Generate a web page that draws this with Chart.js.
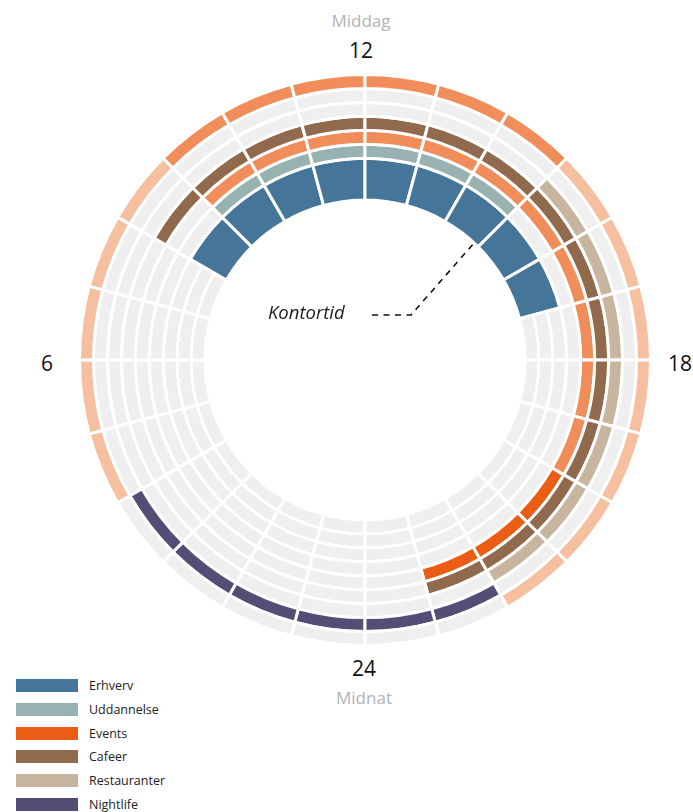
<!DOCTYPE html>
<html>
<head>
<meta charset="utf-8">
<script src="https://cdn.jsdelivr.net/npm/chart.js@4.4.0/dist/chart.umd.min.js"></script>
<style>
  body { margin: 0; background: #fff; font-family: "Open Sans", sans-serif; }
  #wrap { position: relative; width: 693px; height: 812px; overflow: hidden; }
  #chartBox { position: absolute; left: 78px; top: 73px; width: 574px; height: 574px; }
  .lbl { position: absolute; transform: translate(-50%, -50%); line-height: 1; white-space: nowrap; }
  .hour { font-size: 21px; color: #111; }
  .sub { font-size: 17px; color: #b3b3b3; }
  #kontor { position: absolute; left: 268px; top: 312px; transform: translate(0, -50%); line-height: 1;
            font-size: 18.5px; font-style: italic; color: #1a1a1a; }
  #legend { position: absolute; left: 16px; top: 673.6px; }
  .item { display: flex; align-items: center; height: 23.8px; font-size: 12.5px; color: #222; }
  .box { width: 62px; height: 13px; margin-right: 11px; }
</style>
</head>
<body>
<div id="wrap">
  <div id="chartBox"><canvas id="ringChart"></canvas></div>
  <div class="lbl sub" style="left:361px; top:20px;">Middag</div>
  <div class="lbl hour" style="left:361px; top:50px;">12</div>
  <div class="lbl hour" style="left:47px; top:363px;">6</div>
  <div class="lbl hour" style="left:680px; top:363px;">18</div>
  <div class="lbl hour" style="left:364px; top:668px;">24</div>
  <div class="lbl sub" style="left:364px; top:697px;">Midnat</div>
  <div id="kontor">Kontortid</div>
  <div id="legend"></div>
</div>

<script>
// timer, 00-01 ... 23-24 (midnat i bunden, med uret)
const hours = ["00","01","02","03","04","05","06","07","08","09","10","11",
               "12","13","14","15","16","17","18","19","20","21","22","23"];

// 0 = ingen aktivitet, 1 = lav, 2 = hoej
const erhverv      = [0,0,0,0,0,0,0,0,2,2,2,2,2,2,2,2,2,0,0,0,0,0,0,0];
const uddannelse   = [0,0,0,0,0,0,0,0,0,2,2,2,2,2,2,0,0,0,0,0,0,0,0,0];
const events       = [0,0,0,0,0,0,0,0,0,1,1,1,1,1,1,1,1,1,1,1,2,2,2,0];
const cafeer       = [0,0,0,0,0,0,0,0,2,2,2,2,2,2,2,2,2,2,2,2,2,2,2,0];
const restauranter = [0,0,0,0,0,0,0,0,0,0,0,0,0,0,0,2,2,2,2,2,2,2,0,0];
const nightlife    = [2,2,2,2,0,0,0,0,0,0,0,0,0,0,0,0,0,0,0,0,0,0,2,2];
const samlet       = [0,0,0,0,1,1,1,1,1,2,2,2,2,2,2,1,1,1,1,1,1,1,0,0];

const legendNames = ["Erhverv", "Uddannelse", "Events", "Cafeer", "Restauranter", "Nightlife"];

const GRAY = "#efefef";
const colors = {
  erhverv:      [GRAY, "#457599", "#457599"],
  uddannelse:   [GRAY, "#98b2b2", "#98b2b2"],
  events:       [GRAY, "#f18d5b", "#eb5d14"],
  cafeer:       [GRAY, "#916a4d", "#916a4d"],
  restauranter: [GRAY, "#c7b5a0", "#c7b5a0"],
  nightlife:    [GRAY, "#554d75", "#554d75"],
  samlet:       [GRAY, "#f6bfa0", "#f18d5b"]
};
const legendColors = [colors.erhverv[2], colors.uddannelse[2], colors.events[2],
                      colors.cafeer[2], colors.restauranter[2], colors.nightlife[2]];

// legend
const legendEl = document.getElementById("legend");
legendNames.forEach((name, i) => {
  const row = document.createElement("div");
  row.className = "item";
  row.innerHTML = '<div class="box" style="background:' + legendColors[i] + '"></div>' + name;
  legendEl.appendChild(row);
});

// erhverv ringen er tre ringe tyk; uden aktivitet vises den som tre tynde graa ringe
function erhvervGray(ctx) {
  const chart = ctx.chart;
  const ca = chart.chartArea;
  const c = chart.getDatasetMeta(ctx.datasetIndex).controller;
  if (!ca || !c.outerRadius) return GRAY;
  const cx = (ca.left + ca.right) / 2 + (c.offsetX || 0);
  const cy = (ca.top + ca.bottom) / 2 + (c.offsetY || 0);
  const ri = c.innerRadius, ro = c.outerRadius, L = ro - ri, p = L / 3, h = 1.5;
  const g = chart.ctx.createRadialGradient(cx, cy, ri, cx, cy, ro);
  g.addColorStop(0, GRAY);
  [p, 2 * p].forEach(r => {
    g.addColorStop((r - h) / L, GRAY);
    g.addColorStop((r - h) / L, "#fff");
    g.addColorStop((r + h) / L, "#fff");
    g.addColorStop((r + h) / L, GRAY);
  });
  g.addColorStop(1, GRAY);
  return g;
}

function ring(label, levels, cols, weight) {
  return {
    label: label,
    data: hours.map(() => 1),
    weight: weight || 1,
    backgroundColor: ctx => {
      const lv = levels[ctx.dataIndex];
      if (lv === 0 && label === "Erhverv") return erhvervGray(ctx);
      return cols[lv];
    },
    borderColor: "#fff",
    borderWidth: 3,
    hoverBorderWidth: 3,
    offset: 0,
    hoverOffset: 0
  };
}

// "Kontortid" streg
const kontortidLine = {
  id: "kontortidLine",
  afterDatasetsDraw(chart) {
    const meta = chart.getDatasetMeta(chart.data.datasets.length - 1);
    const arc = meta.data[0];
    if (!arc) return;
    const cx = arc.x, cy = arc.y;
    const ri = meta.controller.innerRadius;
    const a = 43 * Math.PI / 180;
    const ctx = chart.ctx;
    ctx.save();
    ctx.strokeStyle = "#111";
    ctx.lineWidth = 1.6;
    ctx.setLineDash([6, 5.5]);
    ctx.beginPath();
    ctx.moveTo(cx + 7, cy - 45);
    ctx.lineTo(cx + 46, cy - 45);
    ctx.lineTo(cx + (ri - 1) * Math.sin(a), cy - (ri - 1) * Math.cos(a));
    ctx.stroke();
    ctx.restore();
  }
};

const ringChart = new Chart(document.getElementById("ringChart").getContext("2d"), {
  type: "doughnut",
  data: {
    labels: hours,
    datasets: [
      ring("Samlet", samlet, colors.samlet),
      ring("Nightlife", nightlife, colors.nightlife),
      ring("Restauranter", restauranter, colors.restauranter),
      ring("Cafeer", cafeer, colors.cafeer),
      ring("Events", events, colors.events),
      ring("Uddannelse", uddannelse, colors.uddannelse),
      ring("Erhverv", erhverv, colors.erhverv, 3)
    ]
  },
  options: {
    responsive: true,
    maintainAspectRatio: false,
    animation: false,
    events: [],
    rotation: 180,
    cutout: 160,
    layout: { padding: 0 },
    plugins: {
      legend: { display: false },
      tooltip: { enabled: false }
    }
  },
  plugins: [kontortidLine]
});
</script>
</body>
</html>
